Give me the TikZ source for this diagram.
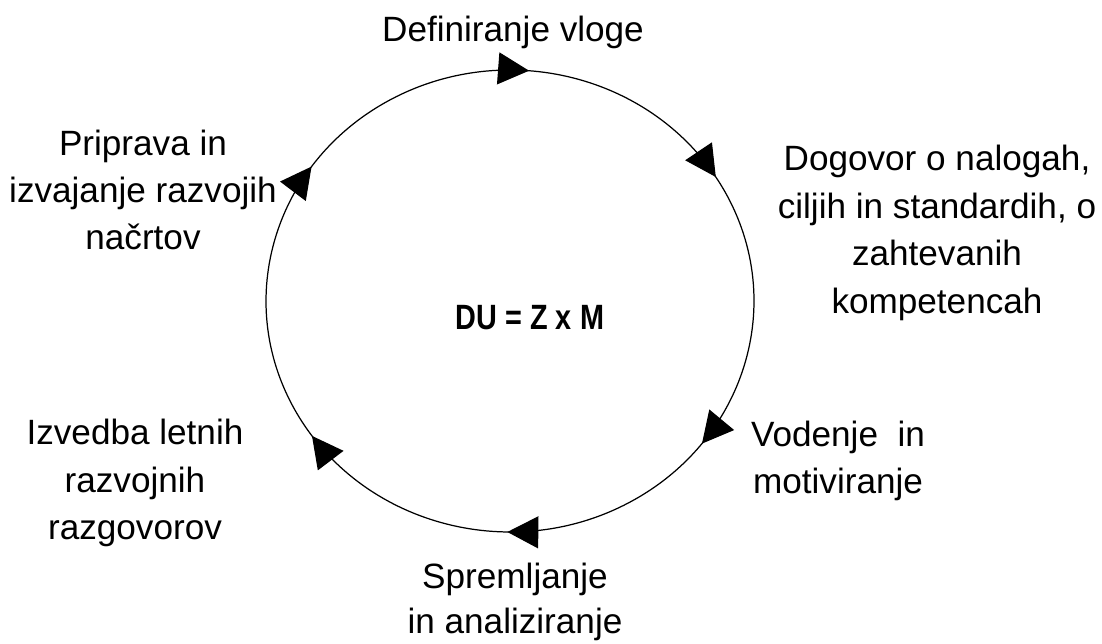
\documentclass[tikz,border=0pt]{standalone}
\usepackage{fontspec}
\setmainfont{Liberation Sans}
\usetikzlibrary{arrows.meta,decorations.markings}

\tikzset{
  /pgf/decoration/midarrow/.style={mark=at position #1 with {\arrow{Triangle[length=0.62cm,width=0.64cm]}}}
}

\begin{document}
\begin{tikzpicture}[x=0.02cm,y=0.02cm,
  every node/.style={align=center, inner sep=0pt, font=\fontsize{20}{27}\selectfont},
  cycle/.style={line width=0.7pt, postaction={decorate}}]
\useasboundingbox (0,0) rectangle (1102,643);

\coordinate (centre) at (510,342);
\coordinate (start) at ([shift={(120:4.88cm and 4.62cm)}]centre);

\node (du) at (530,325) {\scalebox{0.82}[1]{\textbf{DU = Z x M}}};

\node (definiranje) at (513,611) {Definiranje vloge};
\node (dogovor) at (937,410) {Dogovor o nalogah,\\ ciljih in standardih, o\\ zahtevanih\\ kompetencah};
\node (vodenje) at (838,182) {Vodenje~~in\\ motiviranje};
\node[anchor=south, font=\fontsize{20}{26}\selectfont] (spremljanje) at (515,1.5) {Spremljanje\\ in analiziranje};
\node (izvedba) at (135,160) {Izvedba letnih\\ razvojnih\\ razgovorov};
\node (priprava) at (143,453) {Priprava in\\ izvajanje razvojih\\ na\v{c}rtov};

% krog s puscicami
\draw[cycle, decoration={markings,
    midarrow=0.098, midarrow=0.247, midarrow=0.439,
    midarrow=0.587, midarrow=0.738, midarrow=0.932}]
  (start) arc[start angle=120, end angle=-240, x radius=4.88cm, y radius=4.62cm];
\end{tikzpicture}
\end{document}
